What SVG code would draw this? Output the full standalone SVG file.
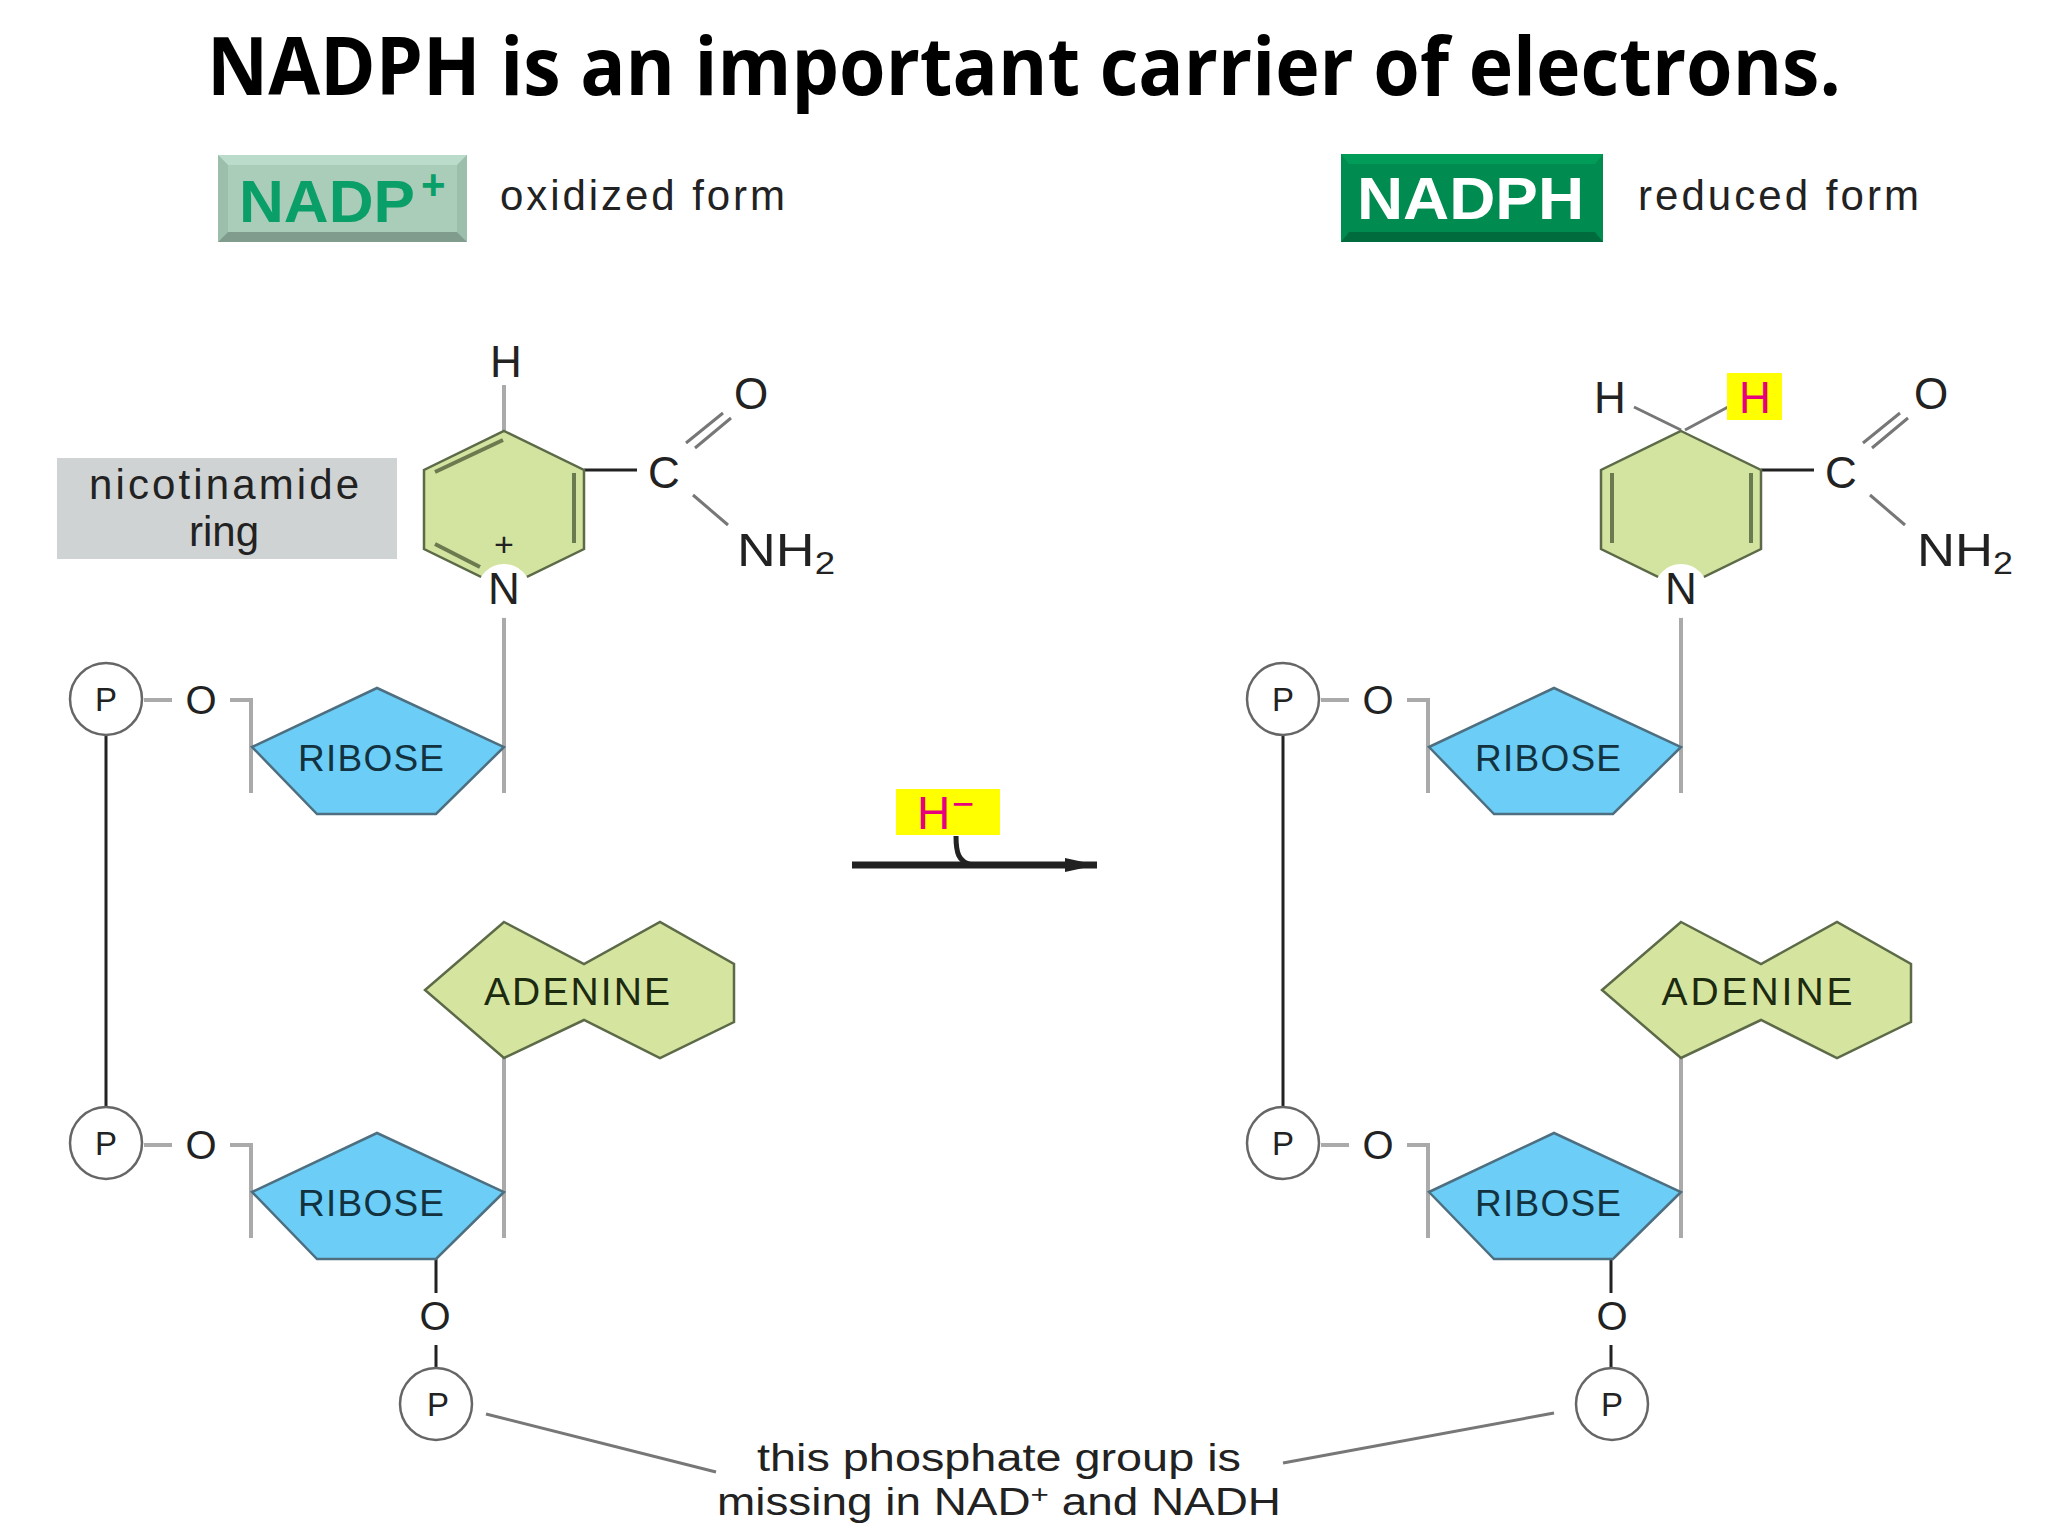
<svg xmlns="http://www.w3.org/2000/svg" width="2048" height="1536" viewBox="0 0 2048 1536">
<style>
text{font-family:"Liberation Sans",Arial,sans-serif;fill:#222}
.m{text-anchor:middle}
.title{font-family:"Open Sans",sans-serif;font-weight:700;font-size:80px;fill:#000}
.lab{font-size:42px}
.at{font-size:44px}
.nh{font-size:47px}
.o{font-size:40px}
.p{font-size:33px}
.sug{font-size:37px;fill:#12323f}
.ade{font-size:39px;fill:#1c2a10}
.note{font-size:38px}
.ring{fill:#d3e4a0;stroke:#5c6a48;stroke-width:2.5}
.rib{fill:#6ccdf6;stroke:#4d6f80;stroke-width:2.5}
.ade-s{fill:#d5e5a0;stroke:#5c6a48;stroke-width:2.5}
.pc{fill:#fff;stroke:#666;stroke-width:2.5}
.g{stroke:#aaa;stroke-width:4;fill:none}
.k{stroke:#222;stroke-width:3;fill:none}
.d{stroke:#777;stroke-width:3;fill:none}
.db{stroke:#6c7a50;stroke-width:4;fill:none}
.y{fill:#ffff00}
</style>
<defs>
<marker id="ah" markerUnits="userSpaceOnUse" markerWidth="34" markerHeight="18" refX="32" refY="9" orient="auto"><path d="M0,2 L32,9 L0,16 Z" fill="#222"/></marker>
</defs>
<rect width="2048" height="1536" fill="#fff"/>
<text id="title" class="title m" x="1024" y="95" textLength="1634" lengthAdjust="spacingAndGlyphs">NADPH is an important carrier of electrons.</text>

<g id="connectors">
<path class="g" d="M504 385V431"/>
<path class="k" d="M584 470H637"/>
<path class="d" d="M686 443L723 413M695 448L731 418M693 495L728 525"/>
<path class="g" d="M504 612V793M230 700H251V793"/>
<path class="g" d="M144 700H172M144 1145H172M230 1145H251V1238M504 1058V1238"/>
<path class="k" d="M106 735V1107M436 1259V1293M436 1345V1370"/>
<path class="d" d="M486 1414L716 1472"/>
<path class="d" d="M1681 430L1634 407M1685 430L1728 407"/>
<path class="k" d="M1761 470H1814"/>
<path class="d" d="M1863 443L1900 413M1872 448L1908 418M1870 495L1905 525"/>
<path class="g" d="M1681 612V793M1407 700H1428V793"/>
<path class="g" d="M1321 700H1349M1321 1145H1349M1407 1145H1428V1238M1681 1058V1238"/>
<path class="k" d="M1283 735V1107M1611 1259V1293M1611 1345V1370"/>
<path class="d" d="M1554 1413L1283 1463"/>
<path d="M852 865H1097" stroke="#222" stroke-width="7" fill="none" marker-end="url(#ah)"/>
<path d="M956 836C956 852 958 862 972 865" stroke="#222" stroke-width="5" fill="none"/>
</g>

<g id="nadp-label">
<rect x="218" y="155" width="249" height="87" fill="#a9cdb8"/>
<path d="M218 155H467L457 165H228Z" fill="#bcdccb"/>
<path d="M218 155L228 165V232L218 242Z" fill="#9cbfab"/>
<path d="M467 155L457 165V232L467 242Z" fill="#9cbfab"/>
<path d="M218 242L228 232H457L467 242Z" fill="#7f9c8c"/>
<text x="239" y="222" font-size="60" font-weight="700" style="fill:#0a9e68" textLength="176" lengthAdjust="spacingAndGlyphs">NADP</text>
<text x="421" y="199" font-size="42" font-weight="700" style="fill:#0a9e68">+</text>
</g>
<text id="oxidized" class="lab" x="500" y="210" textLength="285">oxidized form</text>

<g id="nadph-label">
<rect x="1341" y="154" width="262" height="88" fill="#008c50"/>
<path d="M1341 154H1603L1595 164H1349Z" fill="#009c58"/>
<path d="M1341 242L1349 232H1595L1603 242Z" fill="#006c3e"/>
<text x="1357" y="219" font-size="60" font-weight="700" style="fill:#fff" textLength="227" lengthAdjust="spacingAndGlyphs">NADPH</text>
</g>
<text id="reduced" class="lab" x="1638" y="210" textLength="281">reduced form</text>

<g id="nicotinamide-label">
<rect x="57" y="458" width="340" height="101" fill="#d0d3d3"/>
<text class="lab m" x="224" y="499" textLength="270">nicotinamide</text>
<text class="lab m" x="224" y="546">ring</text>
</g>

<g id="left-ring">
<path class="ring" d="M504 431L584 470V549L504 588L424 549V470Z"/>
<path class="db" d="M435 472L503 440M574 473V543M435 544L480 567"/>
<circle cx="504" cy="591" r="27" fill="#fff"/>
<text class="m" x="504" y="556" font-size="34">+</text>
<text class="at m" x="504" y="604">N</text>
</g>
<text class="at m" x="506" y="377">H</text>
<text class="at m" x="664" y="488">C</text>
<text class="at m" x="751" y="409">O</text>
<text class="nh" x="737" y="566" textLength="98" lengthAdjust="spacingAndGlyphs">NH<tspan font-size="32" dy="8">2</tspan></text>

<g id="left-ribose-1">
<path class="rib" d="M377 688L504 747L436 814H317L252 747Z"/>
<text class="sug m" x="371" y="771" textLength="146">RIBOSE</text>
</g>
<g id="left-p1"><circle class="pc" cx="106" cy="699" r="36"/><text class="p m" x="106" y="711">P</text></g>
<text class="o m" x="201" y="714">O</text>

<g id="left-adenine">
<path class="ade-s" d="M504 922L584 964L660 922L734 964V1022L660 1058L584 1020L504 1058L425 990Z"/>
<text class="ade m" x="577" y="1005" textLength="186">ADENINE</text>
</g>
<g id="left-ribose-2">
<path class="rib" d="M377 1133L504 1192L436 1259H317L252 1192Z"/>
<text class="sug m" x="371" y="1216" textLength="146">RIBOSE</text>
</g>
<g id="left-p2"><circle class="pc" cx="106" cy="1143" r="36"/><text class="p m" x="106" y="1155">P</text></g>
<text class="o m" x="201" y="1159">O</text>
<text class="o m" x="435" y="1330">O</text>
<g id="left-p3"><circle class="pc" cx="436" cy="1404" r="36"/><text class="p m" x="438" y="1416">P</text></g>

<g id="reaction">
<rect class="y" x="896" y="789" width="104" height="46"/>
<text x="917" y="829" font-size="46" style="fill:#e6007e">H</text>
<text x="952" y="817" font-size="38" style="fill:#e6007e">−</text>
</g>

<g id="right-ring">
<path class="ring" d="M1681 431L1761 470V549L1681 588L1601 549V470Z"/>
<path class="db" d="M1612 473V543M1751 473V543"/>
<circle cx="1681" cy="591" r="27" fill="#fff"/>
<text class="at m" x="1681" y="604">N</text>
</g>
<text class="at m" x="1610" y="413">H</text>
<g id="added-h">
<rect class="y" x="1727" y="373" width="55" height="47"/>
<text class="at m" x="1755" y="413" style="fill:#e6007e">H</text>
</g>
<text class="at m" x="1841" y="488">C</text>
<text class="at m" x="1931" y="409">O</text>
<text class="nh" x="1917" y="566" textLength="96" lengthAdjust="spacingAndGlyphs">NH<tspan font-size="32" dy="8">2</tspan></text>

<g id="right-ribose-1">
<path class="rib" d="M1554 688L1681 747L1613 814H1494L1429 747Z"/>
<text class="sug m" x="1548" y="771" textLength="146">RIBOSE</text>
</g>
<g id="right-p1"><circle class="pc" cx="1283" cy="699" r="36"/><text class="p m" x="1283" y="711">P</text></g>
<text class="o m" x="1378" y="714">O</text>

<g id="right-adenine">
<path class="ade-s" d="M1681 922L1761 964L1837 922L1911 964V1022L1837 1058L1761 1020L1681 1058L1602 990Z"/>
<text class="ade m" x="1757" y="1005" textLength="191">ADENINE</text>
</g>
<g id="right-ribose-2">
<path class="rib" d="M1554 1133L1681 1192L1613 1259H1494L1429 1192Z"/>
<text class="sug m" x="1548" y="1216" textLength="146">RIBOSE</text>
</g>
<g id="right-p2"><circle class="pc" cx="1283" cy="1143" r="36"/><text class="p m" x="1283" y="1155">P</text></g>
<text class="o m" x="1378" y="1159">O</text>
<text class="o m" x="1612" y="1330">O</text>
<g id="right-p3"><circle class="pc" cx="1612" cy="1404" r="36"/><text class="p m" x="1612" y="1416">P</text></g>

<g id="note">
<text class="note" x="757" y="1471" textLength="484" lengthAdjust="spacingAndGlyphs">this phosphate group is</text>
<text class="note" x="717" y="1515" textLength="564" lengthAdjust="spacingAndGlyphs">missing in NAD<tspan font-size="26" dy="-12">+</tspan><tspan dy="12"> and NADH</tspan></text>
</g>
</svg>
